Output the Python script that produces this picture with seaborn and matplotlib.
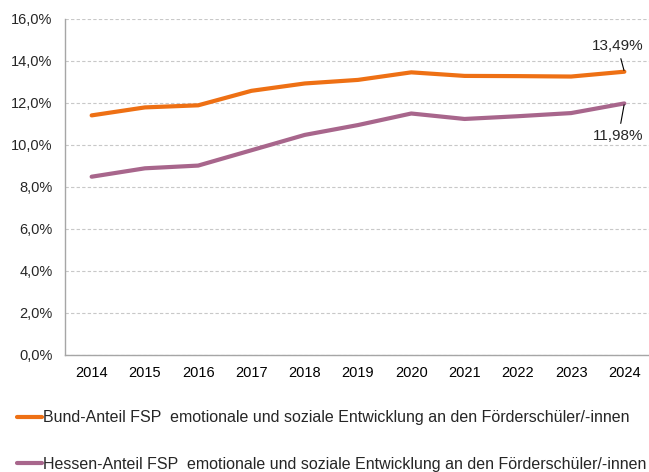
import pandas as pd
import seaborn as sns
import matplotlib.pyplot as plt
from matplotlib.ticker import FuncFormatter, MultipleLocator, FixedLocator

plt.switch_backend("Agg")

YEARS = ["2014", "2015", "2016", "2017", "2018", "2019", "2020", "2021", "2022", "2023", "2024"]
BUND = [11.41, 11.79, 11.89, 12.58, 12.93, 13.10, 13.46, 13.29, 13.28, 13.26, 13.49]
HESSEN = [8.49, 8.89, 9.02, 9.75, 10.48, 10.95, 11.50, 11.24, 11.37, 11.52, 11.98]
LABEL_BUND = "Bund-Anteil FSP  emotionale und soziale Entwicklung an den Förderschüler/-innen"
LABEL_HESSEN = "Hessen-Anteil FSP  emotionale und soziale Entwicklung an den Förderschüler/-innen"
COLORS = {LABEL_BUND: "#EE7014", LABEL_HESSEN: "#A8668C"}

df = pd.DataFrame({
    "Jahr": YEARS * 2,
    "Anteil": BUND + HESSEN,
    "Reihe": [LABEL_BUND] * len(YEARS) + [LABEL_HESSEN] * len(YEARS),
})

sns.set_style("white")
plt.rcParams["font.family"] = ["Liberation Sans", "DejaVu Sans"]

fig = plt.figure(figsize=(6.49, 4.72), dpi=100)
ax = fig.add_axes([65 / 649, 117 / 472, 586 / 649, 336 / 472])
sns.lineplot(data=df, x="Jahr", y="Anteil", hue="Reihe", palette=COLORS,
             linewidth=3, ax=ax, legend=False)

ax.set_ylim(0, 16)
ax.set_xlim(-0.5, len(YEARS) - 0.5)
ax.yaxis.set_major_locator(MultipleLocator(2))
ax.yaxis.set_major_formatter(FuncFormatter(lambda v, _: f"{v:.1f}%".replace(".", ",")))
ax.set_xlabel("")
ax.set_ylabel("")
ax.grid(axis="y", color="#C8C8C8", linestyle=(0, (3, 2)), linewidth=0.8)
ax.set_axisbelow(True)
for side in ["top", "right"]:
    ax.spines[side].set_visible(False)
for side in ["left", "bottom"]:
    ax.spines[side].set_color("#A6A6A6")
    ax.spines[side].set_linewidth(1)

ax.xaxis.set_minor_locator(FixedLocator([i - 0.5 for i in range(len(YEARS) + 1)]))
ax.tick_params(axis="x", which="major", length=0, labelsize=10.5, pad=8, colors="black")
ax.tick_params(axis="x", which="minor", length=5, color="#A6A6A6", direction="out")
ax.tick_params(axis="y", length=5, color="#A6A6A6", direction="out", labelsize=10.5, pad=4)

last = len(YEARS) - 1
ax.annotate(f"{BUND[-1]:.2f}%".replace(".", ","), xy=(last, BUND[-1]), xytext=(-7, 26),
            textcoords="offset pixels", fontsize=11, ha="center", va="center",
            arrowprops=dict(arrowstyle="-", color="black", lw=0.8, shrinkA=2, shrinkB=1))
ax.annotate(f"{HESSEN[-1]:.2f}%".replace(".", ","), xy=(last, HESSEN[-1]), xytext=(-6, -33),
            textcoords="offset pixels", fontsize=11, ha="center", va="center",
            arrowprops=dict(arrowstyle="-", color="black", lw=0.8, shrinkA=2, shrinkB=1))

fig.legend(handles=ax.get_lines()[:2], labels=[LABEL_BUND, LABEL_HESSEN],
           loc="upper left", bbox_to_anchor=(11 / 649, 1 - 404 / 472),
           frameon=False, fontsize=11.5, handlelength=1.55, handletextpad=0.05,
           labelspacing=1.95, borderaxespad=0)

fig.savefig("out.png", dpi=100)
